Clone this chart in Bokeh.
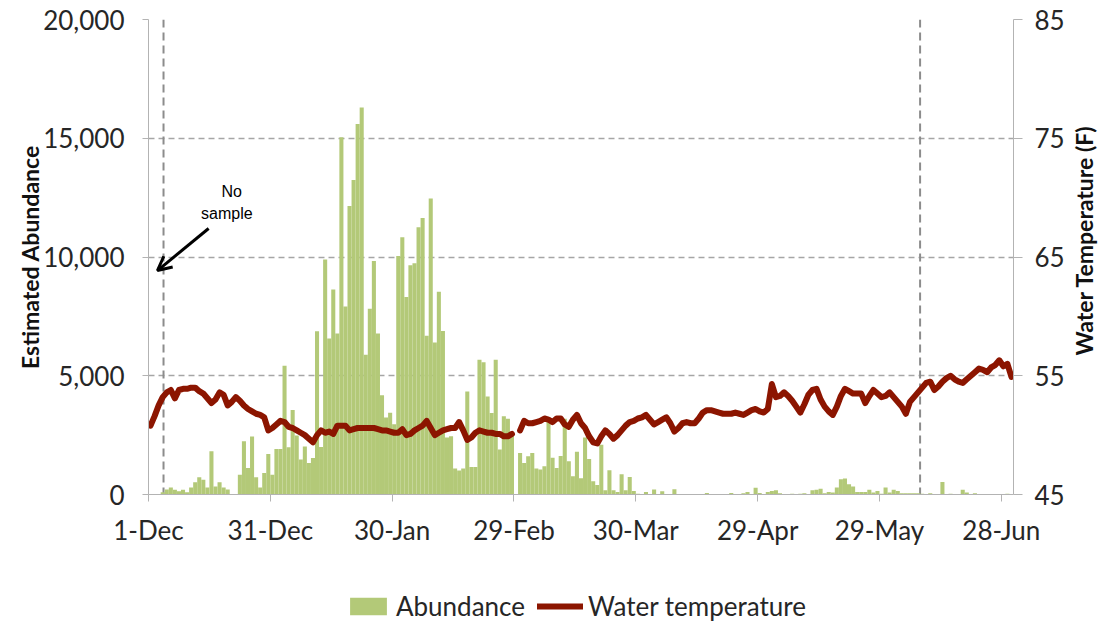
import math
from bokeh.plotting import figure
from bokeh.layouts import column, row
from bokeh.models import (Range1d, LinearAxis, FixedTicker, NumeralTickFormatter, Span,
                          Legend, LegendItem, Arrow, OpenHead, Label)
from bokeh.embed import file_html
from bokeh.resources import INLINE

# ---------------- data ----------------
# daily estimated abundance, 1-Dec (day 0) .. 30-Jun (day 212)
abundance = [
    0, 0, 0, 100, 210, 290, 200, 140, 200, 100,
    300, 520, 730, 620, 300, 1820, 340, 520, 300, 210,
    0, 0, 830, 2240, 1120, 2440, 730, 300, 910, 1710,
    830, 1920, 1920, 5420, 1990, 3560, 2480, 1470, 2020, 1330,
    1540, 6875, 2000, 9900, 6570, 8630, 6780, 15040, 7920, 12150,
    13240, 15600, 16290, 5880, 7820, 9830, 6780, 4180, 3240, 3440,
    2960, 10040, 10830, 8320, 9650, 9740, 11250, 11640, 6680, 12460,
    6400, 8540, 6880, 2400, 2450, 1100, 1010, 1100, 4340, 1160,
    1160, 5670, 5570, 4130, 3430, 5670, 1890, 3290, 3190, 2500,
    0, 1750, 1330, 1610, 1750, 1090, 1050, 1190, 3200, 1550,
    1120, 1620, 3190, 1400, 770, 1800, 680, 2400, 1500, 560,
    400, 2100, 180, 1020, 180, 110, 850, 180, 740, 150,
    30, 0, 110, 0, 210, 0, 140, 0, 0, 220,
    0, 0, 0, 0, 0, 0, 0, 60, 0, 0,
    0, 0, 0, 60, 0, 0, 50, 110, 0, 280,
    60, 0, 110, 150, 180, 50, 0, 0, 30, 0,
    30, 56, 0, 180, 200, 240, 56, 110, 80, 290,
    640, 670, 430, 340, 110, 110, 110, 200, 80, 150,
    30, 290, 80, 200, 150, 56, 56, 56, 56, 56,
    30, 0, 56, 0, 0, 530, 0, 30, 0, 0,
    200, 80, 0, 56, 0, 0, 0, 0, 0, 0,
    0, 30, 0,
]

NA = float("nan")
# daily water temperature (F); day 90 (29-Feb) missing
water_temp = [
    50.8, 51.6, 52.5, 53.2, 53.6, 53.8, 53.1, 53.8, 53.9, 53.9,
    54.0, 54.0, 53.7, 53.5, 53.1, 52.7, 53.0, 53.6, 53.4, 52.5,
    52.8, 53.2, 52.9, 52.5, 52.2, 52.0, 51.8, 51.7, 51.5, 50.4,
    50.6, 50.9, 51.2, 51.1, 50.7, 50.6, 50.4, 50.2, 50.0, 49.7,
    49.4, 50.0, 50.4, 50.2, 50.3, 50.1, 50.8, 50.8, 50.8, 50.4,
    50.5, 50.6, 50.6, 50.6, 50.6, 50.6, 50.5, 50.4, 50.4, 50.3,
    50.2, 50.2, 50.5, 50.0, 50.1, 50.4, 50.6, 50.8, 51.2, 50.6,
    50.0, 50.2, 50.4, 50.5, 50.6, 50.6, 51.1, 50.4, 49.6, 49.8,
    50.2, 50.4, 50.3, 50.2, 50.2, 50.1, 50.1, 49.9, 49.9, 50.1,
    NA, 50.4, 51.2, 51.0, 51.0, 51.1, 51.2, 51.4, 51.3, 51.1,
    51.4, 51.4, 50.9, 50.7, 51.3, 51.7, 51.0, 50.6, 49.9, 49.4,
    49.3, 49.9, 50.4, 50.1, 49.7, 50.0, 50.4, 50.8, 51.1, 51.2,
    51.4, 51.5, 51.7, 51.3, 50.9, 51.1, 51.3, 51.5, 51.0, 50.3,
    50.6, 51.0, 51.1, 51.0, 51.0, 51.4, 51.9, 52.1, 52.1, 52.0,
    51.9, 51.8, 51.8, 51.8, 51.9, 51.8, 51.7, 51.9, 52.1, 52.2,
    52.0, 51.9, 52.2, 54.3, 53.2, 53.3, 53.6, 53.3, 52.9, 52.4,
    51.9, 52.6, 53.4, 53.8, 53.9, 53.0, 52.4, 52.0, 51.7, 52.4,
    53.3, 53.9, 53.7, 53.5, 53.5, 53.5, 52.7, 53.3, 53.8, 53.5,
    53.2, 53.3, 53.6, 53.2, 52.8, 52.4, 51.8, 52.8, 53.2, 53.6,
    54.0, 54.4, 54.5, 53.8, 54.1, 54.5, 54.8, 55.0, 54.7, 54.5,
    54.4, 54.7, 55.0, 55.3, 55.6, 55.5, 55.3, 55.7, 55.9, 56.3,
    55.8, 56.0, 54.9,
]

tick_days = [0, 30, 60, 90, 120, 150, 180, 210]
tick_labels = ["1-Dec", "31-Dec", "30-Jan", "29-Feb", "30-Mar", "29-Apr", "29-May", "28-Jun"]
abund_ticks = [0, 5000, 10000, 15000, 20000]
temp_ticks = [45, 55, 65, 75, 85]
sample_window = [3.7, 190.0]   # dashed vertical markers (day index)

# ---------------- styling / layout ----------------
BAR = "#B3C978"
LINE = "#8C1500"
FONT = "Lato"
TXT = "#262626"
W = 1099
TITLE_W = 32
MAIN_W = W - TITLE_W
LEG_H = 36
MAIN_H = 622 - LEG_H
FRAME_TOP, FRAME_BOTTOM, FRAME_LEFT, FRAME_RIGHT = 19, 494, 148, 1017

days = list(range(len(abundance)))
xpos = [d + 0.5 for d in days]

p = figure(width=MAIN_W, height=MAIN_H, x_range=Range1d(0, 213), y_range=Range1d(0, 20000),
           output_backend="svg", toolbar_location=None,
           min_border_left=FRAME_LEFT, min_border_right=MAIN_W - FRAME_RIGHT,
           min_border_top=FRAME_TOP, min_border_bottom=MAIN_H - FRAME_BOTTOM)
p.extra_y_ranges = {"temp": Range1d(45, 85)}
p.outline_line_color = None

p.xgrid.visible = False
p.ygrid.ticker = FixedTicker(ticks=abund_ticks)
p.ygrid.grid_line_color = "#A6A6A6"
p.ygrid.grid_line_dash = "6 4"
p.ygrid.grid_line_width = 1.5

for loc in sample_window:
    p.add_layout(Span(location=loc, dimension="height", line_color="#8C8C8C",
                      line_dash="8 5", line_width=2, level="underlay"))

p.vbar(x=xpos, top=abundance, width=1.0, fill_color=BAR, line_color=None)
p.line(xpos, water_temp, y_range_name="temp", line_width=6, line_color=LINE,
       line_join="round", line_cap="round")

# left axis
ya = p.yaxis[0]
ya.ticker = FixedTicker(ticks=abund_ticks)
ya.formatter = NumeralTickFormatter(format="0,0")
ya.axis_label = "Estimated Abundance"

# bottom axis
xa = p.xaxis[0]
xa.ticker = FixedTicker(ticks=tick_days)
xa.major_label_overrides = {d: l for d, l in zip(tick_days, tick_labels)}

# right axis (its title is drawn in the narrow strip to the right)
ra = LinearAxis(y_range_name="temp", ticker=FixedTicker(ticks=temp_ticks))
p.add_layout(ra, "right")

for ax in (ya, xa, ra):
    ax.axis_line_color = "#B3B3B3"
    ax.major_tick_line_color = "#B3B3B3"
    ax.minor_tick_line_color = None
    ax.major_tick_in = 0
    ax.major_label_text_font = FONT
    ax.major_label_text_font_size = "26px"
    ax.major_label_text_color = TXT
    ax.axis_label_text_font = FONT
    ax.axis_label_text_font_size = "23px"
    ax.axis_label_text_font_style = "bold"
    ax.axis_label_text_color = "#111111"

ya.major_tick_out = 6
ya.major_label_standoff = 18
ya.axis_label_standoff = -4
xa.major_tick_out = 7
xa.major_label_standoff = 12
ra.major_tick_out = 9
ra.major_label_standoff = 12

# annotation: "No sample"
p.add_layout(Arrow(end=OpenHead(size=14, line_width=3, line_color="black"),
                   x_start=14.8, y_start=11200, x_end=2.2, y_end=9430,
                   line_width=3, line_color="black"))
p.add_layout(Label(x=20.5, y=12750, text="No", text_align="center", text_baseline="middle",
                   text_font="Liberation Sans", text_font_size="16px", text_color="black"))
p.add_layout(Label(x=19.3, y=11850, text="sample", text_align="center", text_baseline="middle",
                   text_font="Liberation Sans", text_font_size="16px", text_color="black"))

# ---------------- right-hand axis title strip ----------------
# (its frame is aligned with the main frame by the row layout)
tf = figure(width=TITLE_W, height=MAIN_H, x_range=Range1d(0, 1), y_range=Range1d(0, 1),
            output_backend="svg", toolbar_location=None, min_border=0,
            x_axis_location=None, y_axis_location=None)
tf.outline_line_color = None
tf.grid.visible = False
tf.add_layout(Label(x=0.5, y=0.535, text="Water Temperature (F)", angle=math.pi / 2,
                    text_align="center", text_baseline="middle",
                    text_font=FONT, text_font_size="23px", text_font_style="bold",
                    text_color="#111111"))

# ---------------- legend strip ----------------
lg = figure(width=W, height=LEG_H, x_range=Range1d(0, 1), y_range=Range1d(0, 1),
            output_backend="svg", toolbar_location=None, min_border=0,
            x_axis_location=None, y_axis_location=None)
lg.outline_line_color = None
lg.grid.visible = False
lb = lg.vbar(x=[-5], top=[0], width=1, fill_color=BAR, line_color=None)
ll = lg.line([-5, -4], [-5, -4], line_width=6, line_color=LINE, line_cap="round")
legend = Legend(items=[LegendItem(label="Abundance", renderers=[lb]),
                       LegendItem(label="Water temperature", renderers=[ll])],
                orientation="horizontal", location=(345, 0),
                glyph_width=46, glyph_height=22, label_standoff=5, spacing=12,
                padding=0, margin=0, border_line_color=None, background_fill_alpha=0,
                label_text_font=FONT, label_text_font_size="26px", label_text_color=TXT)
lg.add_layout(legend, "center")

layout = column(row(p, tf, spacing=0), lg, spacing=0)
open("out.html", "w").write(file_html(layout, INLINE))
